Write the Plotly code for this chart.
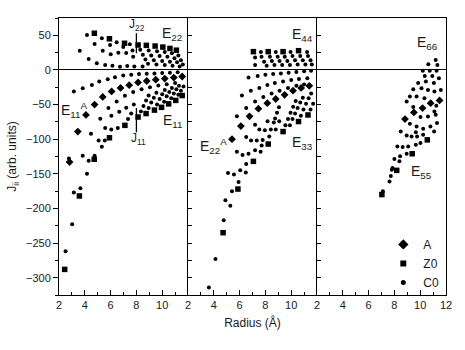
import plotly.graph_objects as go
from plotly.subplots import make_subplots

# ---------------- data (radius in Angstrom, J_ii in arb. units) ----------------
# Panel 1 : E11 / E22
p1_A_x = [2.82, 3.46, 4.09, 4.76, 5.39, 6.08, 6.77, 7.44, 8.13, 8.8, 9.5, 10.2, 10.9, 11.55]
p1_A_y = [-133, -89, -65, -50, -39, -31, -26, -22, -18, -16, -14, -12.5, -11, -9.5]

p1_Z_x = [2.44, 3.58, 4.73, 5.91, 7.11, 8.13, 8.75, 9.4, 9.95, 10.5, 11.05, 11.55,
          4.74, 5.91, 7.08, 8.13, 8.77, 9.45, 10.05, 10.6, 11.1]
p1_Z_y = [-288, -182, -129, -98, -80, -68, -63, -58, -54, -49, -44, -37,
          53, 45, 38.5, 36, 35.5, 34.5, 33, 31, 28.5]

p1_C_x = [2.51, 3.02, 3.15, 3.66, 4.17, 2.77, 3.84, 4.3, 4.76, 4.48, 5.07, 5.55, 5.32,
          5.58, 6.05, 6.56,
          5.2, 5.83, 6.47, 7.11, 7.75, 8.4, 9.05, 9.7, 10.35, 11.0,
          6.06, 6.67, 7.21, 7.8,
          3.15, 3.84, 4.55, 5.12, 5.78, 6.34, 6.98, 7.6, 8.2, 8.8, 9.4, 10.0, 10.6, 11.2,
          7.35, 7.6,
          8.35, 8.55, 8.75, 8.95,
          8.95, 9.15, 9.35, 9.55,
          9.6, 9.8, 10.0, 10.2,
          10.15, 10.35, 10.55, 10.75,
          10.7, 10.9, 11.1, 11.3,
          11.25, 11.45, 11.65,
          4.17, 5.32, 6.47, 7.49, 4.76, 5.96, 6.98, 3.61, 5.39, 6.01, 6.60, 7.21,
          4.30, 4.93, 5.58, 6.14, 6.73, 7.29,
          7.7, 7.75, 7.84, 8.48,
          8.3, 8.5, 8.7, 8.9,
          8.95, 9.15, 9.35, 9.55,
          9.6, 9.8, 10.0, 10.2,
          10.2, 10.4, 10.6, 10.8,
          10.75, 10.95, 11.15, 11.35,
          11.25, 11.45, 11.6]
p1_C_y = [-262, -223, -177, -171, -150, -128, -124, -131, -124, -92, -102, -102, -111,
          -84, -86, -84,
          -70.5, -55, -45.6, -37.4, -32, -28, -25, -22.5, -20.5, -19,
          -66, -60.4, -54.7, -50,
          -31, -26.3, -21.6, -16.8, -13.4, -10.5, -8.2, -7, -6, -5.5, -5, -4.5, -4, -3.5,
          -71, -63,
          -60, -52, -44, -37,
          -55, -47, -40, -33,
          -50, -42, -35, -29,
          -46, -38, -32, -26,
          -41, -34, -28, -23,
          -36, -30, -24,
          50.4, 45.6, 39.9, 37.0, 37.4, 36.0, 33.1, 27.8, 27.8, 22.6, 24.9, 24.5,
          15.8, 9.6, 7.2, 6.2, 4.7, 5.8,
          28, 19, 5, 5,
          29, 22, 15, 9,
          28, 21, 14, 8,
          27, 20, 13, 7,
          26, 19, 12, 6,
          24, 17, 11, 5,
          21, 14, 8]

# Panel 2 : E22(A) / E33 / E44
p2_A_x = [5.41, 6.1, 6.77, 7.46, 8.15, 8.8, 9.49, 10.14, 10.77, 11.4]
p2_A_y = [-100, -81, -67, -56, -48, -42, -36, -30, -26, -23]

p2_Z_x = [4.72, 5.87, 7.07, 8.22, 9.37, 10.57, 11.3, 7.07, 8.22, 9.37, 10.57]
p2_Z_y = [-235, -172, -132, -107, -89, -74.5, -65, 26.4, 26.4, 26.4, 27.8]

p2_C_x = [3.62, 4.13, 4.77, 4.9, 5.28, 5.41, 5.92, 5.1, 5.56, 6.05, 6.51, 6.48,
          5.79, 6.23, 6.69, 7.2, 7.63, 6.51, 6.89, 7.33, 7.79, 7.71, 7.2, 7.53, 8.3,
          8.17, 8.65, 9.07, 7.96, 8.42, 8.8,
          6.69, 7.4, 8.0, 8.6, 9.2, 9.8, 10.4, 11.0, 11.54,
          6.18, 6.87, 7.53, 8.15, 8.73, 9.37, 10.0, 10.6, 11.25,
          5.79, 6.51, 7.2, 7.84, 8.48, 9.1, 9.75, 10.4, 11.0,
          9.55, 9.75, 9.95, 10.15, 10.35,
          10.75, 10.95, 11.15, 11.35, 11.55,
          11.5, 11.7,
          8.75, 8.9, 9.05,
          9.9, 10.1, 10.3, 10.5, 10.7, 10.9,
          7.65, 8.8, 9.95, 11.23,
          7.2, 7.2, 7.7, 7.9, 8.1, 8.35, 8.5, 8.7, 8.95, 9.1, 9.3,
          9.5, 9.7, 9.9, 10.1, 10.3, 10.5, 10.7, 10.9, 11.1, 11.3, 11.5, 11.6]
p2_C_y = [-314, -273, -217, -188, -196, -175, -162, -149, -151, -145, -136, -148,
          -118, -123, -121, -116, -118, -97, -102, -102, -101, -109, -79, -86, -96,
          -74, -76, -74, -87, -86, -86,
          -11, -8.6, -7, -6, -5, -4, -3, -2, -1,
          -37, -30, -26, -21.6, -19, -16.8, -14.4, -13, -12,
          -67, -55, -45.6, -39, -34, -30, -26, -23, -21,
          -80, -71, -62, -53, -45,
          -66, -57, -49, -41, -34,
          -57, -49,
          -70, -62, -54,
          -80, -71, -63, -55, -47, -40,
          26, 26, 26, 26,
          18, 7.2, 19, 12, 6, 19, 13, 7, 19, 13, 7,
          19, 13, 7, 20, 14, 8, 20, 14, 8, 20, 14, 8]

# Panel 3 : E55 / E66
p3_A_x = [8.82, 9.51, 10.18, 10.81, 11.5]
p3_A_y = [-71, -61.4, -55, -48, -44]

p3_Z_x = [7.03, 8.18, 9.38, 10.55]
p3_Z_y = [-180, -145, -121, -101]

p3_C_x = [11.2, 10.63, 11.33, 10.2, 10.74, 11.27, 10.35, 10.94, 11.45, 9.84, 10.44, 11.06,
          11.6, 9.46, 10.1, 10.6, 11.1, 9.2, 9.72, 10.33, 11.25, 8.95, 9.46, 11.1,
          10.02, 10.6, 11.2, 9.2, 9.72, 10.23, 10.79, 11.3, 8.49, 8.95, 9.33, 9.76,
          10.23, 11.08, 8.23, 8.64, 9.07, 9.66, 10.02, 8.44, 8.95, 8.0, 8.39, 7.8,
          7.62, 7.72, 7.85, 7.11, 9.66]
p3_C_y = [14.4, 8.2, 7.2, -1, -1, -1, -8.6, -8.6, -12, -19, -16.8, -19,
          -28.8, -27.8, -26.3, -28.8, -31, -38.4, -38.4, -40.8, -51.8, -45.6, -53.7, -60,
          -68, -67.2, -64.8, -77.7, -81.6, -84.9, -81.6, -76.7, -88.8, -94.5, -96, -96,
          -93.5, -88.8, -110.4, -111.2, -110.4, -108, -105.5, -124.7, -121, -128.5, -132, -144,
          -161, -153, -141.5, -175, -90]

panels = [
    (p1_A_x, p1_A_y, p1_Z_x, p1_Z_y, p1_C_x, p1_C_y),
    (p2_A_x, p2_A_y, p2_Z_x, p2_Z_y, p2_C_x, p2_C_y),
    (p3_A_x, p3_A_y, p3_Z_x, p3_Z_y, p3_C_x, p3_C_y),
]

x_ticks = [[2, 4, 6, 8, 10], [2, 4, 6, 8, 10], [2, 4, 6, 8, 10, 12]]
y_ticks = [50, 0, -50, -100, -150, -200, -250, -300]

FONT = "Arial, Liberation Sans, Helvetica, sans-serif"
INK = "#1a1a1a"

fig = make_subplots(rows=1, cols=3, shared_yaxes=True, horizontal_spacing=0)

for i, (ax, ay, zx, zy, cx, cy) in enumerate(panels):
    col = i + 1
    fig.add_trace(go.Scatter(x=cx, y=cy, mode="markers", showlegend=False,
                             marker=dict(symbol="circle", size=4, color="black")), row=1, col=col)
    fig.add_trace(go.Scatter(x=zx, y=zy, mode="markers", showlegend=False,
                             marker=dict(symbol="square", size=5.5, color="black")), row=1, col=col)
    fig.add_trace(go.Scatter(x=ax, y=ay, mode="markers", showlegend=False,
                             marker=dict(symbol="diamond", size=6, color="black")), row=1, col=col)

# legend entries
for name, sym, sz in [("A", "diamond", 8), ("Z0", "square", 6), ("C0", "circle", 5)]:
    fig.add_trace(go.Scatter(x=[None], y=[None], mode="markers", name=name,
                             marker=dict(symbol=sym, size=sz, color="black")), row=1, col=3)

for i in range(3):
    fig.update_xaxes(row=1, col=i + 1, range=[2, 12], tickvals=x_ticks[i],
                     ticks="inside", ticklen=5, tickwidth=1, tickcolor="black",
                     minor=dict(dtick=1, ticks="inside", ticklen=3, tickcolor="black"),
                     showline=True, linecolor="black", linewidth=1, mirror=True,
                     showgrid=False, zeroline=False,
                     tickfont=dict(family=FONT, size=11, color=INK))

fig.update_yaxes(row=1, col=1, range=[-325, 75], tickvals=y_ticks,
                 ticks="outside", ticklen=5, tickcolor="black",
                 minor=dict(dtick=25, ticks="outside", ticklen=3, tickcolor="black"),
                 showline=True, linecolor="black", linewidth=1,
                 showgrid=False, zeroline=True, zerolinecolor="black", zerolinewidth=1,
                 tickfont=dict(family=FONT, size=11, color=INK),
                 title=dict(text="J<sub>ii</sub> (arb. units)", standoff=6,
                            font=dict(family=FONT, size=12, color=INK)))
for col in (2, 3):
    fig.update_yaxes(row=1, col=col, range=[-325, 75], tickvals=y_ticks,
                     ticks="inside", ticklen=4, tickcolor="black",
                     minor=dict(dtick=25, ticks="inside", ticklen=4, tickcolor="black"),
                     showline=True, linecolor="black", linewidth=1,
                     mirror=(col == 3),
                     showgrid=False, zeroline=True, zerolinecolor="black", zerolinewidth=1,
                     showticklabels=False)

fig.update_xaxes(row=1, col=2, title=dict(text="Radius (Å)", standoff=8,
                 font=dict(family=FONT, size=12, color=INK)))

# marker lines for J22 / J11
fig.add_shape(type="line", xref="x", yref="y", x0=8.0, x1=8.0, y0=24, y1=53,
              line=dict(color="black", width=1.3))
fig.add_shape(type="line", xref="x", yref="y", x0=8.0, x1=8.0, y0=-55, y1=-90,
              line=dict(color="black", width=1.3))

labels = [
    ("x", "y", 8.05, 64.8, "J<sub>22</sub>", 12),
    ("x", "y", 8.13, -99, "J<sub>11</sub>", 12),
    ("x", "y", 10.74, 51.8, "E<sub>22</sub>", 14),
    ("x", "y", 10.81, -73.4, "E<sub>11</sub>", 14),
    ("x", "y", 3.19, -57.6, "E<sub>11</sub><sup>A</sup>", 14),
    ("x2", "y2", 4.0, -109.4, "E<sub>22</sub><sup>A</sup>", 14),
    ("x2", "y2", 10.89, -105.8, "E<sub>33</sub>", 14),
    ("x2", "y2", 10.85, 51.1, "E<sub>44</sub>", 14),
    ("x3", "y3", 10.54, 38.9, "E<sub>66</sub>", 14),
    ("x3", "y3", 10.08, -147.5, "E<sub>55</sub>", 14),
]
for xr, yr, x, y, t, s in labels:
    fig.add_annotation(xref=xr, yref=yr, x=x, y=y, text=t, showarrow=False,
                       xanchor="center", yanchor="middle",
                       font=dict(family=FONT, size=s, color=INK))

fig.update_layout(
    width=465, height=350,
    margin=dict(l=55, r=19, t=18, b=55),
    paper_bgcolor="white", plot_bgcolor="white",
    showlegend=True,
    legend=dict(x=0.838, y=0.235, xanchor="left", yanchor="top",
                bgcolor="rgba(0,0,0,0)", borderwidth=0,
                font=dict(family=FONT, size=12, color=INK),
                itemwidth=30, tracegroupgap=0),
)

fig.write_html("out.html")
